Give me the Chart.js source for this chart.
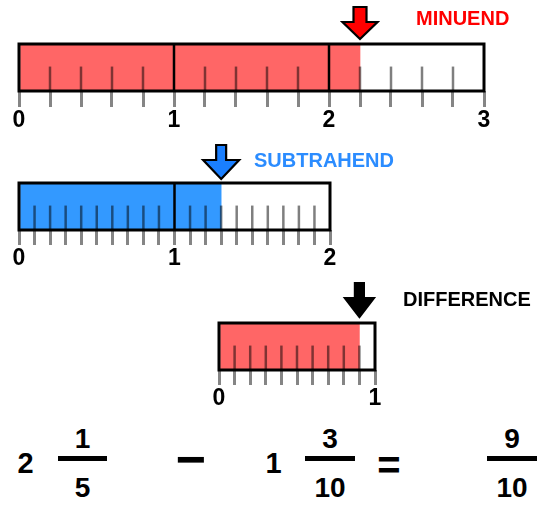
<!DOCTYPE html>
<html>
<head>
<meta charset="utf-8">
<script src="https://cdn.jsdelivr.net/npm/chart.js@4.4.1/dist/chart.umd.min.js"></script>
<style>
  html, body { margin: 0; padding: 0; background: #fff; }
  body { width: 543px; height: 508px; position: relative; overflow: hidden;
         font-family: "Liberation Sans", Arial, sans-serif; font-weight: bold; }
  canvas { position: absolute; left: 0; }
  .t { position: absolute; white-space: nowrap; line-height: 1; }
  .c { transform: translateX(-50%); }
  .bar { position: absolute; background: #000; }
</style>
</head>
<body>
<canvas id="c0" width="543" height="140" style="top:0px"></canvas>
<canvas id="c1" width="543" height="140" style="top:140px"></canvas>
<canvas id="c2" width="543" height="140" style="top:280px"></canvas>

<div class="t" id="lab0" style="left:416px;top:7.7px;font-size:20px;color:#ff0000"></div>
<div class="t" id="lab1" style="left:254px;top:150.2px;font-size:20px;color:#2b8cff"></div>
<div class="t" id="lab2" style="left:403px;top:289.2px;font-size:20px;color:#000"></div>

<div id="eq"></div>

<script>
// ---------- DATA ----------
const lineNames   = ['MINUEND', 'SUBTRAHEND', 'DIFFERENCE'];
const lineValues  = [2.2, 1.3, 0.9];
const lineMaxima  = [3, 2, 1];
const tickSteps   = [0.2, 0.1, 0.1];
const tickLabels  = [['0', '1', '2', '3'], ['0', '1', '2'], ['0', '1']];

const wholes       = [2, 1, null];
const numerators   = [1, 3, 9];
const denominators = [5, 10, 10];
const operators    = ['−', '='];

// ---------- STYLE ----------
const styles = [
  { fill: '#ff6666', arrow: '#ff0000', pad: {left: 19, right: 59, top: 44, bottom: 5}, tickLen: 16,
    arrowDims: {gap: 5, headH: 17, shaftLen: 15, shaftW: 13, headW: 35} },
  { fill: '#3399ff', arrow: '#1a7fff', pad: {left: 19, right: 213, top: 43, bottom: 4}, tickLen: 15,
    arrowDims: {gap: 4, headH: 19, shaftLen: 15, shaftW: 10, headW: 36} },
  { fill: '#ff6666', arrow: '#000000', pad: {left: 219, right: 168, top: 43, bottom: 5}, tickLen: 15,
    arrowDims: {gap: 6, headH: 19, shaftLen: 15, shaftW: 9, headW: 29} }
];

function isWhole(v) { return Math.abs(v - Math.round(v)) < 1e-6; }

const numberLinePlugin = {
  id: 'numberLine',
  afterDatasetsDraw(chart) {
    const ctx = chart.ctx;
    const x = chart.scales.x;
    const a = chart.chartArea;
    const st = chart.options.plugins.numberLine;
    const h = a.bottom - a.top;
    ctx.save();
    // inner minor ticks
    ctx.strokeStyle = 'rgba(0,0,0,0.5)';
    ctx.lineWidth = 2.5;
    x.ticks.forEach(t => {
      if (isWhole(t.value)) return;
      const px = x.getPixelForValue(t.value);
      ctx.beginPath();
      ctx.moveTo(px, a.top + 0.48 * h);
      ctx.lineTo(px, a.bottom);
      ctx.stroke();
    });
    // whole-number dividers
    ctx.strokeStyle = '#000';
    ctx.lineWidth = 2.5;
    x.ticks.forEach(t => {
      if (!isWhole(t.value) || t.value <= x.min || t.value >= x.max) return;
      const px = x.getPixelForValue(t.value);
      ctx.beginPath();
      ctx.moveTo(px, a.top);
      ctx.lineTo(px, a.bottom);
      ctx.stroke();
    });
    // outline
    ctx.lineWidth = 3;
    ctx.strokeRect(a.left, a.top, a.right - a.left, h);
    // arrow
    const d = st.arrowDims;
    const tx = x.getPixelForValue(st.value);
    const ty = a.top - d.gap;
    ctx.beginPath();
    ctx.moveTo(tx, ty);
    ctx.lineTo(tx + d.headW / 2, ty - d.headH);
    ctx.lineTo(tx + d.shaftW / 2, ty - d.headH);
    ctx.lineTo(tx + d.shaftW / 2, ty - d.headH - d.shaftLen);
    ctx.lineTo(tx - d.shaftW / 2, ty - d.headH - d.shaftLen);
    ctx.lineTo(tx - d.shaftW / 2, ty - d.headH);
    ctx.lineTo(tx - d.headW / 2, ty - d.headH);
    ctx.closePath();
    ctx.fillStyle = st.arrow;
    ctx.fill();
    ctx.lineWidth = 2.2;
    ctx.lineJoin = 'miter';
    ctx.strokeStyle = '#000';
    ctx.stroke();
    ctx.restore();
  }
};

lineNames.forEach((name, i) => {
  document.getElementById('lab' + i).textContent = name;
  const s = styles[i];
  const axisH = 140 - s.pad.top - s.pad.bottom - 47;
  new Chart(document.getElementById('c' + i), {
    type: 'bar',
    data: {
      labels: [name],
      datasets: [
        { label: name, data: [lineValues[i]], backgroundColor: s.fill, borderWidth: 0,
          barPercentage: 1, categoryPercentage: 1 },
        { label: 'rest', data: [lineMaxima[i] - lineValues[i]], backgroundColor: '#ffffff', borderWidth: 0,
          barPercentage: 1, categoryPercentage: 1 }
      ]
    },
    options: {
      indexAxis: 'y',
      responsive: false,
      animation: false,
      devicePixelRatio: 1,
      layout: { padding: s.pad },
      scales: {
        x: {
          type: 'linear', stacked: true, min: 0, max: lineMaxima[i],
          afterFit: sc => { sc.height = axisH; },
          border: { display: false },
          grid: { drawOnChartArea: false, drawTicks: true, tickLength: s.tickLen,
                  color: 'rgba(0,0,0,0.48)', lineWidth: 3 },
          ticks: {
            stepSize: tickSteps[i], autoSkip: false, maxRotation: 0, padding: 0,
            color: '#000',
            font: { family: 'Liberation Sans', weight: 'bold', size: 23 },
            callback: v => isWhole(v) ? tickLabels[i][Math.round(v)] : ''
          }
        },
        y: { display: false, stacked: true }
      },
      plugins: {
        legend: { display: false },
        tooltip: { enabled: false },
        numberLine: { value: lineValues[i], arrow: s.arrow, arrowDims: s.arrowDims }
      }
    },
    plugins: [numberLinePlugin]
  });
});

// ---------- EQUATION ----------
const eq = document.getElementById('eq');
function addText(txt, cx, cy, size) {
  const d = document.createElement('div');
  d.className = 't c';
  d.textContent = txt;
  d.style.fontSize = size + 'px';
  d.style.left = cx + 'px';
  // digit glyph centre sits ~0.4886em below top with line-height 1
  d.style.top = (cy - 0.4886 * size) + 'px';
  eq.appendChild(d);
}
function addBar(x0, x1, y, th) {
  const b = document.createElement('div');
  b.className = 'bar';
  b.style.left = x0 + 'px';
  b.style.width = (x1 - x0) + 'px';
  b.style.top = (y - th / 2) + 'px';
  b.style.height = th + 'px';
  eq.appendChild(b);
}
const fracCenters = [82.5, 330, 512];
const fracBars = [[58, 107], [305, 355], [487, 537]];
const wholeCenters = [25.5, 273.5, null];
fracCenters.forEach((cx, k) => {
  if (wholes[k] !== null) addText(String(wholes[k]), wholeCenters[k], 463, 29);
  addText(String(numerators[k]), cx, 439, 28);
  addText(String(denominators[k]), cx, 488, 28);
  addBar(fracBars[k][0], fracBars[k][1], 458.7, 5);
});
addText(operators[0], 191, 458.5, 52);
addText(operators[1], 389, 465, 40);
</script>
</body>
</html>
